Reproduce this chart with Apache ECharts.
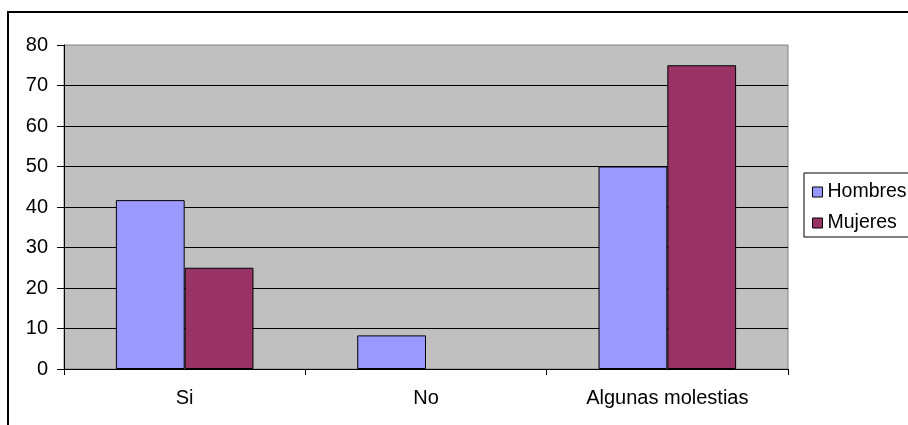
<!DOCTYPE html>
<html>
<head>
<meta charset="utf-8">
<style>
  html, body { margin: 0; padding: 0; background: #ffffff; }
  #chart { width: 908px; height: 425px; }
</style>
<script src="https://cdn.jsdelivr.net/npm/echarts@6/dist/echarts.min.js"></script>
</head>
<body>
<div id="chart"></div>
<script>
// Survey answers, percentage per group
const categories = ['Si', 'No', 'Algunas molestias'];
const hombres = [41.7, 8.3, 50];
const mujeres = [25, 0, 75];
const yTicks = { min: 0, max: 80, interval: 10 };

const FONT = '"Liberation Sans", Arial, sans-serif';

// zero-height bars get no outline
const toBarData = arr => arr.map(v => v === 0 ? { value: v, itemStyle: { borderWidth: 0 } } : v);

const chart = echarts.init(document.getElementById('chart'), null, { renderer: 'canvas' });

chart.setOption({
  animation: false,
  backgroundColor: '#ffffff',
  textStyle: { fontFamily: FONT, color: '#000' },
  graphic: [{
    type: 'rect',
    shape: { x: 8, y: 12, width: 1200, height: 1200 },
    style: { fill: 'none', stroke: '#000', lineWidth: 2 },
    silent: true,
    z: 100
  }],
  grid: {
    left: 64, right: 120, top: 45, bottom: 56,
    show: true,
    backgroundColor: '#c0c0c0',
    borderColor: '#808080',
    borderWidth: 1
  },
  legend: {
    orient: 'vertical',
    left: 804, top: 173,
    padding: [9, 40, 4, 8],
    itemGap: 11,
    itemWidth: 10, itemHeight: 10,
    borderColor: '#000', borderWidth: 1,
    backgroundColor: '#fff',
    icon: 'rect',
    itemStyle: { borderColor: '#000', borderWidth: 1 },
    textStyle: { fontFamily: FONT, fontSize: 19.5, color: '#000', lineHeight: 20 },
    data: ['Hombres', 'Mujeres']
  },
  xAxis: {
    type: 'category',
    data: categories,
    axisLine: { lineStyle: { color: '#000', width: 1 } },
    axisTick: { show: true, length: 6, lineStyle: { color: '#000' } },
    axisLabel: { fontFamily: FONT, fontSize: 20, color: '#000', margin: 19 },
    splitLine: { show: false }
  },
  yAxis: {
    type: 'value',
    min: yTicks.min, max: yTicks.max, interval: yTicks.interval,
    axisLine: { show: true, lineStyle: { color: '#000', width: 1 } },
    axisTick: { show: true, length: 7, lineStyle: { color: '#000' } },
    axisLabel: { fontFamily: FONT, fontSize: 20, color: '#000', margin: 16 },
    splitLine: { show: true, showMaxLine: false, lineStyle: { color: '#000', width: 1 } }
  },
  series: [
    {
      name: 'Hombres',
      type: 'bar',
      data: toBarData(hombres),
      barGap: '0%',
      barCategoryGap: '43%',
      itemStyle: { color: '#9999ff', borderColor: '#000', borderWidth: 1 }
    },
    {
      name: 'Mujeres',
      type: 'bar',
      data: toBarData(mujeres),
      barGap: '0%',
      barCategoryGap: '43%',
      itemStyle: { color: '#993366', borderColor: '#000', borderWidth: 1 }
    }
  ]
});
</script>
</body>
</html>
